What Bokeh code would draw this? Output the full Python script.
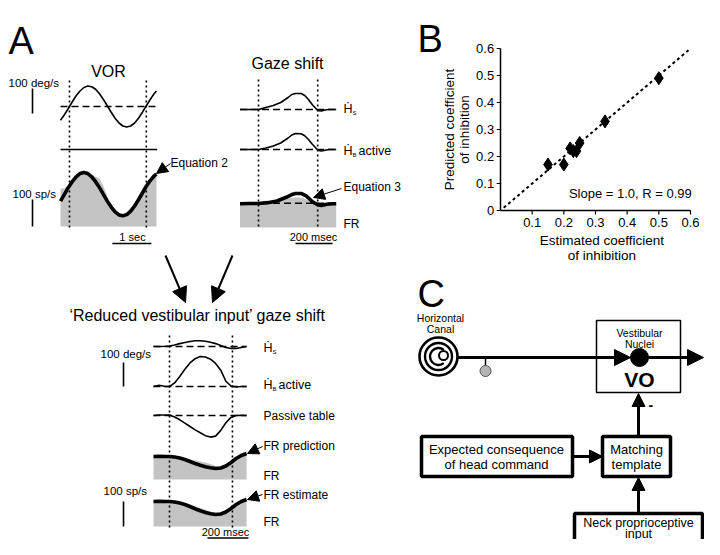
import numpy as np
from bokeh.plotting import figure
from bokeh.models import Range1d, Arrow, NormalHead
from bokeh.core.properties import value
from bokeh.embed import file_html
from bokeh.resources import INLINE

FONT = "Liberation Sans"

# ---------------- Panel A : VOR (time in s, velocity deg/s, firing rate sp/s) -------------
vor_t = [0, 0.1, 0.2, 0.3, 0.4, 0.5, 0.6, 0.7, 0.8, 0.9, 1.0, 1.1, 1.2, 1.3, 1.4, 1.5, 1.6,
         1.7, 1.8, 1.9, 2.0, 2.1, 2.2, 2.3, 2.4, 2.46]
vor_head_vel = [-55, -33, -8, 18, 43, 62, 76, 82, 79, 69, 51, 28, 3, -23, -47, -66, -78,
                -82, -78, -66, -47, -23, 3, 28, 51, 62]
vor_fr_model = [94, 119, 144, 166, 184, 196, 200, 196, 184, 166, 144, 119, 94, 72, 54, 43, 40,
                44, 57, 76, 99, 124, 149, 170, 187, 194]
vor_fr = [140, 142, 152, 170, 186, 198, 202, 200, 192, 184, 178, 150, 110, 80, 60, 46, 40,
          42, 52, 70, 95, 125, 158, 168, 185, 200]
vor_flat_t = [0, 2.48]
vor_flat = [0, 0]
vor_marks = [0.23, 2.2]
vor_time_bar = [1.33, 2.33]

# ---------------- Panel A : Gaze shift (time in ms) ----------------
gz_t = [-100, -50, 0, 40, 80, 120, 160, 180, 200, 230, 250, 270, 290, 310, 320, 340, 360, 380, 420]
gz_hs = [0, 0, 0, 8, 16, 28, 48, 60, 64, 64, 56, 40, 20, 4, -4, -6, -2, 0, 0]
gz_hb = [0, 0, 0, 6, 14, 26, 46, 58, 64, 63, 55, 40, 22, 6, -3, -6, -3, 0, 0]
gz_fr_model_t = [-100, -50, 0, 50, 100, 150, 180, 200, 230, 260, 290, 320, 340, 370, 400, 420]
gz_fr_model = [88, 89, 89, 92, 98, 112, 122, 126, 126, 116, 96, 84, 82, 86, 88, 88]
gz_fr_t = [-100, -60, -20, 0, 50, 100, 150, 200, 240, 280, 320, 360, 420]
gz_fr = [87, 90, 88, 88, 92, 96, 106, 112, 110, 96, 86, 86, 89]
gz_fr_base = 90
gz_marks = [0, 320]
gz_time_bar = [200, 400]

# ---------------- Panel A : 'Reduced vestibular input' gaze shift (time in ms) ----------
red_t = [-78, -50, -20, 0, 25, 50, 75, 100, 125, 150, 175, 200, 225, 250, 275, 300, 325, 350, 376]
red_hs = [0, 0, 1, 2, 6, 12, 17, 21, 24, 24, 22, 18, 12, 4, -4, -8, -8, -4, 0]
red_hb = [0, 5, 0, 0, 15, 42, 72, 98, 116, 125, 123, 114, 96, 68, 22, 2, -2, 0, 0]
red_pt = [0, 2, 2, 2, -6, -18, -32, -46, -60, -72, -84, -90, -86, -62, -30, -8, 0, 1, 0]
red_frp_model = [92, 93, 92, 92, 90, 86, 80, 72, 64, 57, 51, 47, 44, 46, 54, 68, 84, 96, 104]
red_frp = [93, 94, 92, 92, 91, 89, 84, 80, 76, 72, 68, 62, 54, 50, 56, 70, 86, 98, 100]
red_fre_model = [100, 101, 100, 100, 98, 94, 88, 80, 71, 63, 56, 51, 48, 50, 58, 72, 88, 100, 108]
red_fre = [101, 102, 100, 100, 99, 96, 91, 85, 80, 74, 68, 60, 55, 54, 60, 74, 90, 101, 104]
red_marks = [0, 307]
red_time_bar = [185, 385]

# ---------------- Panel B : coefficients of inhibition ----------------
est_coef = [0.15, 0.20, 0.22, 0.23, 0.24, 0.25, 0.33, 0.50]
pred_coef = [0.17, 0.17, 0.23, 0.22, 0.22, 0.25, 0.33, 0.49]
fit_slope = 1.0
fit_x = [0.01, 0.6]
b_yticks = [0, 0.1, 0.2, 0.3, 0.4, 0.5, 0.6]
b_ytick_labels = ["0", "0.1", "0.2", "0.3", "0.4", "0.5", "0.6"]
b_xticks = [0.1, 0.2, 0.3, 0.4, 0.5, 0.6]
b_xtick_labels = ["0.1", "0.2", "0.3", "0.4", "0.5", "0.6"]

# ---------------- figure (pixel-like base coordinates) ----------------
X0, X1, Y0, Y1 = 0, 704, 0, 539
p = figure(width=704, height=539, x_range=Range1d(X0, X1), y_range=Range1d(Y1, Y0),
           output_backend="svg", toolbar_location=None, x_axis_type=None, y_axis_type=None,
           min_border=0, outline_line_color=None, background_fill_color="white",
           border_fill_color="white")

xr, yr = {}, {}
def add_x(name, x0, k):
    xr[name] = Range1d((X0 - x0) / k, (X1 - x0) / k)
def add_y(name, y0, k):
    yr[name] = Range1d((y0 - Y1) / k, (y0 - Y0) / k)

add_x("vor_x", 60, 39.0)
add_y("vor_hv", 106, 0.25)
add_y("vor_flat", 149, 0.25)
add_y("vor_fr", 226, 0.27)
add_x("gz_x", 258, 0.185)
add_y("gz_hs", 109, 0.25)
add_y("gz_hb", 149, 0.25)
add_y("gz_fr", 227, 0.27)
add_x("red_x", 169, 0.205)
add_y("red_hs", 346, 0.24)
add_y("red_hb", 386, 0.24)
add_y("red_pt", 415, 0.24)
add_y("red_frp", 479, 0.25)
add_y("red_fre", 526, 0.25)
add_x("bx", 500, 190 / 0.6)
add_y("by", 210, 162 / 0.6)
p.extra_x_ranges = xr
p.extra_y_ranges = yr

GREY = "#c3c3c3"
THIN = 1.6
THICK = 3.6


def txt(x, y, s, size="12px", align="left", baseline="middle", style="normal", angle=0,
        xname="default", yname="default"):
    p.text(x=[x], y=[y], text=[s], text_font=value(FONT), text_font_size=value(size),
           text_align=align, text_baseline=baseline, text_font_style=style, angle=angle,
           text_color="black", x_range_name=xname, y_range_name=yname)


def arrow(xs, ys, xe, ye, lw=2.0, size=12):
    p.add_layout(Arrow(end=NormalHead(size=size, fill_color="black", line_color="black",
                                      line_width=1),
                       x_start=xs, y_start=ys, x_end=xe, y_end=ye,
                       line_width=lw, line_color="black"))


def hdot(x, y, sub, extra=None):
    txt(x, y, "Ḣ", size="12.5px")
    txt(x + 9, y + 4, sub, size="6px")
    if extra:
        txt(x + 15, y, extra, size="12.5px")


def markers(marks, xname, ytop, ybot):
    for m in marks:
        p.segment(x0=[m], y0=[ytop], x1=[m], y1=[ybot], line_color="black", line_width=1.6,
                  line_dash="2 3", x_range_name=xname)

# ---------------- Panel letters ----------------
txt(8, 40, "A", size="38px", baseline="alphabetic")
txt(417, 38, "B", size="38px", baseline="alphabetic")
txt(417, 293, "C", size="38px", baseline="alphabetic")

# VOR column
txt(108, 71, "VOR", size="16px", align="center")
txt(8, 82, "100 deg/s", size="11.5px")
txt(12, 193, "100 sp/s", size="11.5px")
p.segment(x0=[32], y0=[-28], x1=[32], y1=[72], line_width=1.6, line_color="black",
          y_range_name="vor_hv")
p.segment(x0=[32], y0=[0], x1=[32], y1=[100], line_width=1.6, line_color="black",
          y_range_name="vor_fr")
p.varea(x=vor_t, y1=[0] * len(vor_t), y2=vor_fr, fill_color=GREY,
        x_range_name="vor_x", y_range_name="vor_fr")
markers(vor_marks, "vor_x", 80, 227)
p.line(x=[vor_t[0], vor_flat_t[1]], y=[0, 0], line_dash="7 4", line_width=1.6, line_color="black",
       x_range_name="vor_x", y_range_name="vor_hv")
p.line(x=vor_t, y=vor_head_vel, line_width=THIN, line_color="black",
       x_range_name="vor_x", y_range_name="vor_hv")
p.line(x=vor_flat_t, y=vor_flat, line_width=THIN, line_color="black",
       x_range_name="vor_x", y_range_name="vor_flat")
p.line(x=vor_t, y=vor_fr_model, line_width=THICK, line_color="black",
       x_range_name="vor_x", y_range_name="vor_fr")
arrow(170, 163, 156, 173, lw=1, size=11)
txt(170, 162, "Equation 2", size="12px")
p.segment(x0=[vor_time_bar[0]], y0=[243], x1=[vor_time_bar[1]], y1=[243], line_width=1.6,
          line_color="black", x_range_name="vor_x")
txt(132, 236, "1 sec", size="11px", align="center")

# Gaze shift column
txt(287, 63, "Gaze shift", size="16px", align="center")
p.varea(x=gz_fr_t, y1=[0] * len(gz_fr_t), y2=gz_fr, fill_color=GREY,
        x_range_name="gz_x", y_range_name="gz_fr")
markers(gz_marks, "gz_x", 79, 227)
for nm in ["gz_hs", "gz_hb"]:
    p.line(x=[gz_t[0], gz_t[-1]], y=[0, 0], line_dash="7 4", line_width=1.6, line_color="black",
           x_range_name="gz_x", y_range_name=nm)
p.line(x=[gz_t[0], gz_t[-1]], y=[gz_fr_base, gz_fr_base], line_dash="7 4", line_width=1.6,
       line_color="black", x_range_name="gz_x", y_range_name="gz_fr")
p.line(x=gz_t, y=gz_hs, line_width=THIN, line_color="black", x_range_name="gz_x", y_range_name="gz_hs")
p.line(x=gz_t, y=gz_hb, line_width=THIN, line_color="black", x_range_name="gz_x", y_range_name="gz_hb")
p.line(x=gz_fr_model_t, y=gz_fr_model, line_width=THICK, line_color="black",
       x_range_name="gz_x", y_range_name="gz_fr")
hdot(343, 108, "S")
hdot(343, 150, "B", "active")
arrow(341, 188, 313, 197, lw=1, size=11)
txt(343, 186, "Equation 3", size="12px")
txt(343, 223, "FR", size="12px")
p.segment(x0=[gz_time_bar[0]], y0=[243], x1=[gz_time_bar[1]], y1=[243], line_width=1.6,
          line_color="black", x_range_name="gz_x")
txt(313, 236, "200 msec", size="11px", align="center")

# Arrows converging on reduced panel
arrow(165, 255, 185, 302, lw=2, size=15)
arrow(232, 255, 212, 302, lw=2, size=15)

# Reduced vestibular input column
txt(197, 315, "\u2018Reduced vestibular input\u2019 gaze shift", size="16px", align="center")
txt(100, 353, "100 deg/s", size="11.5px")
txt(103, 490, "100 sp/s", size="11.5px")
p.segment(x0=[123], y0=[0], x1=[123], y1=[100], line_width=1.6, line_color="black",
          y_range_name="red_hb")
p.segment(x0=[123], y0=[0], x1=[123], y1=[100], line_width=1.6, line_color="black",
          y_range_name="red_fre")
p.varea(x=red_t, y1=[0] * len(red_t), y2=red_frp, fill_color=GREY,
        x_range_name="red_x", y_range_name="red_frp")
p.varea(x=red_t, y1=[0] * len(red_t), y2=red_fre, fill_color=GREY,
        x_range_name="red_x", y_range_name="red_fre")
markers(red_marks, "red_x", 335, 528)
for nm in ["red_hs", "red_hb", "red_pt"]:
    p.line(x=[red_t[0], red_t[-1]], y=[0, 0], line_dash="7 4", line_width=1.6, line_color="black",
           x_range_name="red_x", y_range_name=nm)
for nm, vals in [("red_hs", red_hs), ("red_hb", red_hb), ("red_pt", red_pt)]:
    p.line(x=red_t, y=vals, line_width=THIN, line_color="black",
           x_range_name="red_x", y_range_name=nm)
p.line(x=red_t, y=red_frp_model, line_width=THICK, line_color="black",
       x_range_name="red_x", y_range_name="red_frp")
p.line(x=red_t, y=red_fre_model, line_width=THICK, line_color="black",
       x_range_name="red_x", y_range_name="red_fre")
hdot(263, 347, "S")
hdot(263, 384, "B", "active")
txt(263, 415, "Passive table", size="12px")
arrow(262, 446, 247, 453, lw=1, size=11)
txt(263, 445, "FR prediction", size="12px")
txt(263, 475, "FR", size="12px")
arrow(262, 494, 247, 499, lw=1, size=11)
txt(263, 494, "FR estimate", size="12px")
txt(263, 521, "FR", size="12px")
p.segment(x0=[red_time_bar[0]], y0=[537.5], x1=[red_time_bar[1]], y1=[537.5], line_width=1.6,
          line_color="black", x_range_name="red_x")
txt(225, 531, "200 msec", size="11px", align="center")

# ---------------- Panel B ----------------
B = dict(x_range_name="bx", y_range_name="by")
p.line(x=fit_x, y=[fit_slope * v for v in fit_x], line_dash="3 3", line_width=2,
       line_color="black", **B)
p.segment(x0=[0], y0=[0], x1=[0], y1=[0.6], line_width=1.5, line_color="black", **B)
p.segment(x0=[0], y0=[0], x1=[0.6], y1=[0], line_width=1.5, line_color="black", **B)
p.segment(x0=[-0.012] * len(b_yticks), y0=b_yticks, x1=[0] * len(b_yticks), y1=b_yticks,
          line_width=1.2, line_color="black", **B)
p.segment(x0=b_xticks, y0=[-0.015] * len(b_xticks), x1=b_xticks, y1=[0] * len(b_xticks),
          line_width=1.2, line_color="black", **B)
p.text(x=[-0.02] * len(b_yticks), y=b_yticks, text=b_ytick_labels, text_font=value(FONT),
       text_font_size=value("13px"), text_align="right", text_baseline="middle", **B)
p.text(x=b_xticks, y=[-0.045] * len(b_xticks), text=b_xtick_labels, text_font=value(FONT),
       text_font_size=value("13px"), text_align="center", text_baseline="middle", **B)
p.scatter(x=est_coef, y=pred_coef, marker="diamond", size=13, fill_color="black",
          line_color="black", **B)
txt(0.32, -0.111, "Estimated coefficient", size="13.5px", align="center", xname="bx", yname="by")
txt(0.32, -0.167, "of inhibition", size="13.5px", align="center", xname="bx", yname="by")
txt(-0.161, 0.30, "Predicted coefficient", size="13.5px", align="center", angle=np.pi / 2,
    xname="bx", yname="by")
txt(-0.114, 0.30, "of inhibition", size="13.5px", align="center", angle=np.pi / 2,
    xname="bx", yname="by")
txt(0.216, 0.063, "Slope = 1.0, R = 0.99", size="13px", xname="bx", yname="by")

# ---------------- Panel C (block diagram) ----------------
txt(440, 317, "Horizontal", size="10.5px", align="center")
txt(440, 328, "Canal", size="10.5px", align="center")
p.circle(x=[438], y=[356], radius=19, fill_color=None, line_color="black", line_width=2.6)
p.circle(x=[438], y=[356], radius=13.5, fill_color=None, line_color="black", line_width=2.4)
p.arc(x=[438], y=[356], radius=8.5, start_angle=0.9, end_angle=2 * np.pi - 0.9,
      direction="anticlock", line_color="black", line_width=2.4)
p.circle(x=[443], y=[355], radius=4.5, fill_color="white", line_color="black", line_width=2)
arrow(457, 357, 630, 357, lw=3, size=16)
p.segment(x0=[485], y0=[357], x1=[485], y1=[365], line_color="black", line_width=1.5)
p.circle(x=[485], y=[370.5], radius=5.5, fill_color="#b4b4b4", line_color="#555555", line_width=1)
p.quad(left=[596], right=[680], top=[320], bottom=[392], fill_color=None, line_color="black",
       line_width=1.5)
txt(639, 332, "Vestibular", size="10.5px", align="center")
txt(639, 343, "Nuclei", size="10.5px", align="center")
p.circle(x=[639], y=[357], radius=9, fill_color="black", line_color="black")
arrow(645, 357, 703, 357, lw=3, size=16)
txt(639, 379, "VO", size="21px", align="center", style="bold")
arrow(638, 436, 638, 393, lw=3, size=13)
txt(648, 404, "-", size="14px", style="bold")
p.quad(left=[421], right=[572], top=[436], bottom=[476], fill_color=None, line_color="black",
       line_width=3.5)
txt(496, 449, "Expected consequence", size="13px", align="center")
txt(496, 464, "of head command", size="13px", align="center")
arrow(573, 456, 602, 456, lw=3, size=13)
p.quad(left=[602], right=[670], top=[436], bottom=[476], fill_color=None, line_color="black",
       line_width=3.5)
txt(636, 449, "Matching", size="13px", align="center")
txt(636, 464, "template", size="13px", align="center")
arrow(638, 513, 638, 477, lw=3, size=13)
p.quad(left=[574], right=[702], top=[513], bottom=[560], fill_color=None, line_color="black",
       line_width=3.5)
txt(638, 522, "Neck proprioceptive", size="12.5px", align="center")
txt(638, 533, "input", size="12.5px", align="center")

open("out.html", "w").write(file_html(p, INLINE))
